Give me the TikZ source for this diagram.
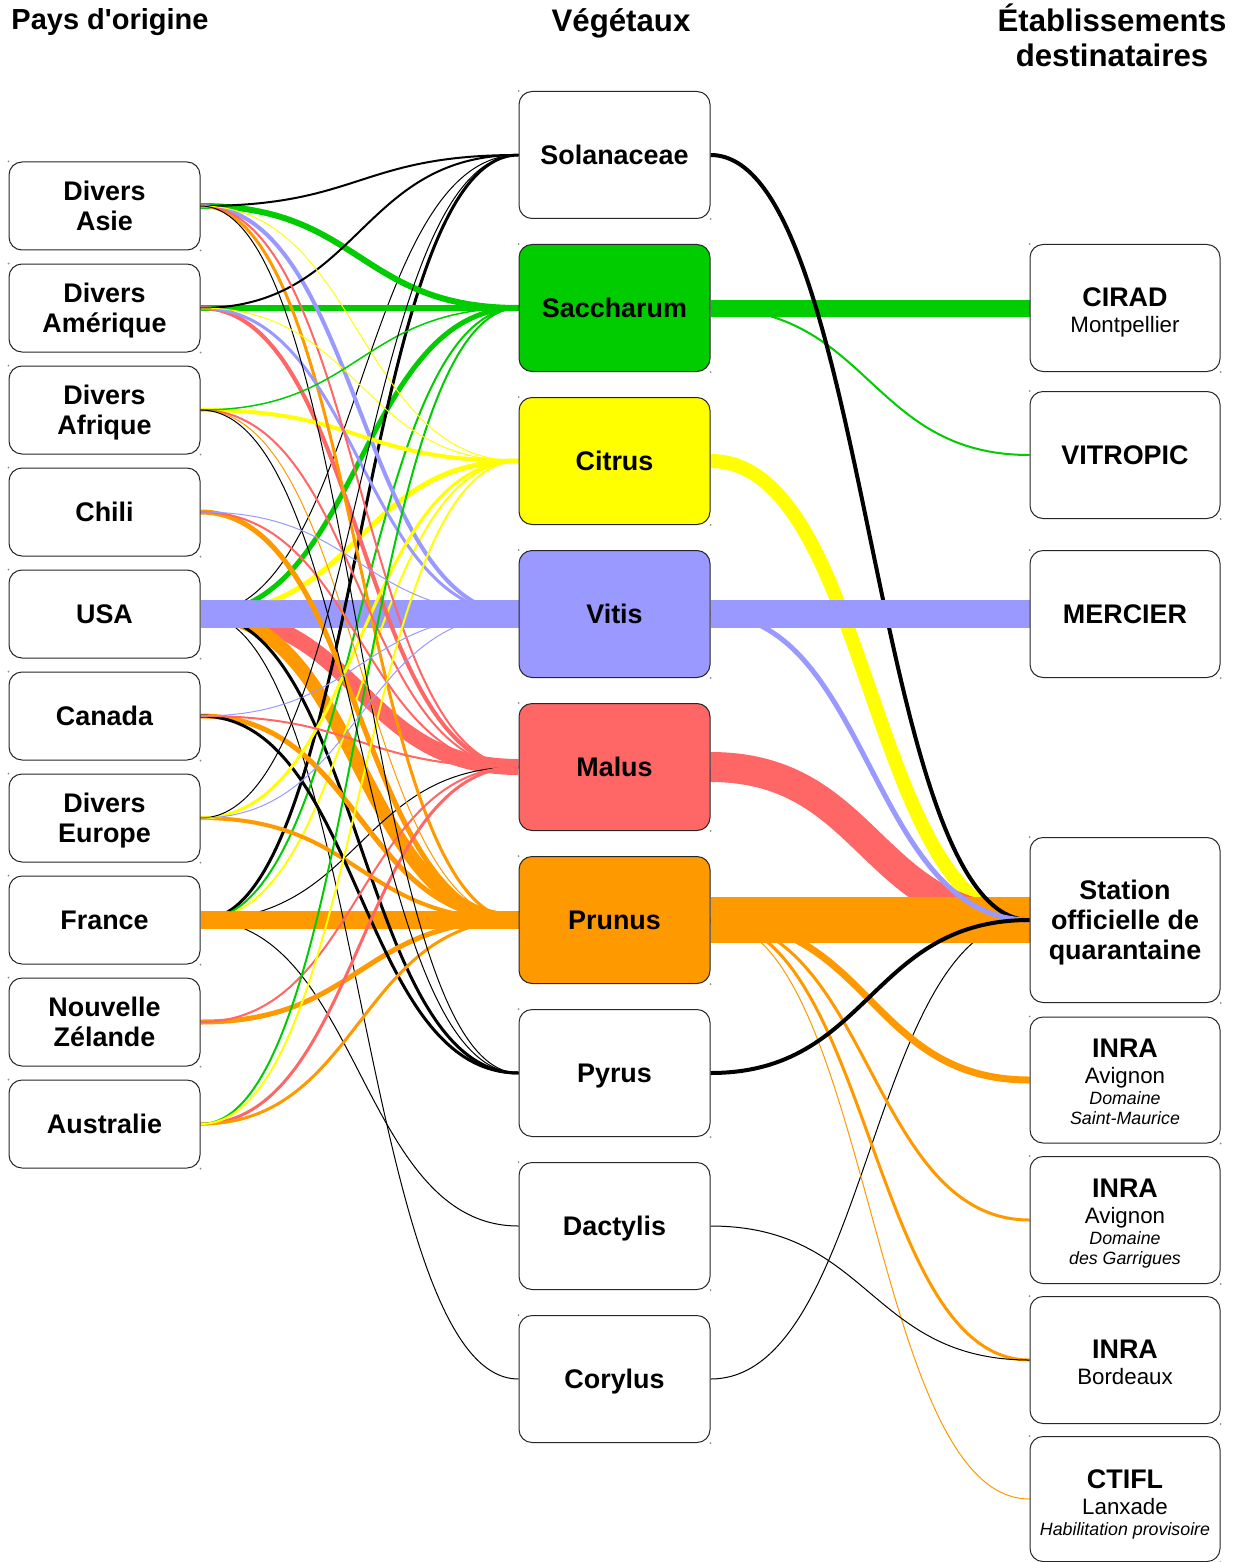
\documentclass[tikz,border=0pt]{standalone}
\usepackage{fontspec}
\setmainfont{Liberation Sans}
\definecolor{cgreen}{HTML}{00CC00}
\definecolor{cyellow}{HTML}{FFFF00}
\definecolor{clav}{HTML}{9999FF}
\definecolor{csalmon}{HTML}{FF6666}
\definecolor{corange}{HTML}{FF9900}
\pgfdeclarelayer{flows}
\pgfsetlayers{flows,main}
% one flow: horizontal tangents at both ends
\newcommand\fl[4]{\draw[draw=#3,line width=#4*0.5pt] (#1.east) .. controls +(160,0) and +(-160,0) .. (#2.west);}
\begin{document}
\begin{tikzpicture}[x=0.5pt,y=-0.5pt,
  box/.style={draw=black!85,line width=0.5pt,rounded corners=6.5pt,fill=white,
    minimum width=95.5pt,inner sep=0pt,align=center,text depth=0pt,
    font=\bfseries\fontsize{13.45}{15}\selectfont},
  lbox/.style={box,minimum height=44pt},
  mbox/.style={box,minimum height=63.5pt},
  rbox/.style={box,minimum width=95pt,minimum height=63.5pt},
  hdr/.style={inner sep=0pt,anchor=base,font=\bfseries\fontsize{15.6}{17.5}\selectfont},
  tb/.style={inner sep=0pt,anchor=base,font=\bfseries\fontsize{13.45}{15}\selectfont},
  tr/.style={inner sep=0pt,anchor=base,font=\fontsize{11.15}{13}\selectfont},
  ti/.style={inner sep=0pt,anchor=base,font=\itshape\fontsize{8.9}{10}\selectfont},
  dot/.style={fill=black!45}]
\useasboundingbox (0,0) rectangle (1239,1562);

% column headers
\node[hdr,font=\bfseries\fontsize{14.5}{16}\selectfont] (hpays) at (110,30) {Pays d\textquotesingle origine};
\node[hdr] (hveg) at (621,32) {Végétaux};
\node[hdr] (hetab) at (1112,32) {Établissements};
\node[hdr] (hdest) at (1112,67) {destinataires};

% countries of origin
\node[lbox] (asie) at (104.5,206) {Divers\\Asie};
\node[lbox] (amerique) at (104.5,308) {Divers\\Amérique};
\node[lbox] (afrique) at (104.5,410) {Divers\\Afrique};
\node[lbox] (chili) at (104.5,512) {Chili};
\node[lbox] (usa) at (104.5,614) {USA};
\node[lbox] (canada) at (104.5,716) {Canada};
\node[lbox] (europe) at (104.5,818) {Divers\\Europe};
\node[lbox] (france) at (104.5,920) {France};
\node[lbox] (nz) at (104.5,1022) {Nouvelle\\Zélande};
\node[lbox] (australie) at (104.5,1124) {Australie};

% plants
\node[mbox] (solanaceae) at (614.5,155) {Solanaceae};
\node[mbox,fill=cgreen] (saccharum) at (614.5,308) {Saccharum};
\node[mbox,fill=cyellow] (citrus) at (614.5,461) {Citrus};
\node[mbox,fill=clav] (vitis) at (614.5,614) {Vitis};
\node[mbox,fill=csalmon] (malus) at (614.5,767) {Malus};
\node[mbox,fill=corange] (prunus) at (614.5,920) {Prunus};
\node[mbox] (pyrus) at (614.5,1073) {Pyrus};
\node[mbox] (dactylis) at (614.5,1226) {Dactylis};
\node[mbox] (corylus) at (614.5,1379) {Corylus};

% receiving establishments
\node[rbox] (cirad) at (1125,308) {};
\node[rbox] (vitropic) at (1125,455) {VITROPIC};
\node[rbox] (mercier) at (1125,614) {MERCIER};
\node[rbox,minimum height=82.5pt] (station) at (1125,920) {Station\\officielle de\\quarantaine};
\node[rbox,minimum height=63pt] (inrasm) at (1125,1080) {};
\node[rbox] (inrag) at (1125,1220) {};
\node[rbox] (inrab) at (1125,1360) {};
\node[rbox,minimum height=62.5pt] (ctifl) at (1125,1499) {};

\node[tb] (ciradA) at (1125,306) {CIRAD};
\node[tr] (ciradB) at (1125,332) {Montpellier};
\node[tb] (inrasmA) at (1125,1057) {INRA};
\node[tr] (inrasmB) at (1125,1083) {Avignon};
\node[ti] (inrasmC) at (1125,1104) {Domaine};
\node[ti] (inrasmD) at (1125,1124) {Saint-Maurice};
\node[tb] (inragA) at (1125,1197) {INRA};
\node[tr] (inragB) at (1125,1223) {Avignon};
\node[ti] (inragC) at (1125,1244) {Domaine};
\node[ti] (inragD) at (1125,1264) {des Garrigues};
\node[tb] (inrabA) at (1125,1358) {INRA};
\node[tr] (inrabB) at (1125,1384) {Bordeaux};
\node[tb] (ctiflA) at (1125,1488) {CTIFL};
\node[tr] (ctiflB) at (1125,1514) {Lanxade};
\node[ti] (ctiflC) at (1125,1535) {Habilitation provisoire};

% corner marks of the boxes
\foreach \n in {asie,amerique,afrique,chili,usa,canada,europe,france,nz,australie,
  solanaceae,saccharum,citrus,vitis,malus,prunus,pyrus,dactylis,corylus,
  cirad,vitropic,mercier,station,inrasm,inrag,inrab,ctifl}{
  \fill[dot] (\n.north west) circle (0.5pt);
  \fill[dot] (\n.south east) circle (0.5pt);
}

\begin{pgfonlayer}{flows}
% main straight bands
\fl{usa}{vitis}{clav}{28}
\fl{france}{prunus}{corange}{18}
% other flows from USA, hidden under its own band
\begin{scope}
  \clip (0,0) -- (1239,0) -- (1239,1562) -- (0,1562) -- cycle
        (200,600) -- (200,628) -- (519,628) -- (519,600) -- cycle;
  \fl{usa}{malus}{csalmon}{16}
  \fl{usa}{prunus}{corange}{14}
  \fl{usa}{saccharum}{cgreen}{5}
  \fl{usa}{citrus}{cyellow}{5}
  \fl{usa}{pyrus}{black}{3}
  \fl{usa}{solanaceae}{black}{1}
  \fl{usa}{corylus}{black}{1}
\end{scope}
% other flows from France, hidden under its own band
\begin{scope}
  \clip (0,0) -- (1239,0) -- (1239,1562) -- (0,1562) -- cycle
        (200,911) -- (200,929) -- (519,929) -- (519,911) -- cycle;
  \fl{france}{solanaceae}{black}{3}
  \fl{france}{saccharum}{cgreen}{2}
  \fl{france}{citrus}{cyellow}{2}
  \fl{france}{malus}{black}{1}
  \fl{france}{dactylis}{black}{1}
\end{scope}
% remaining origin -> plant flows
\fl{asie}{saccharum}{cgreen}{6}
\fl{amerique}{saccharum}{cgreen}{6}
\fl{chili}{prunus}{corange}{5}
\fl{canada}{prunus}{corange}{5}
\fl{nz}{prunus}{corange}{5}
\fl{asie}{vitis}{clav}{4}
\fl{amerique}{malus}{csalmon}{4}
\fl{afrique}{citrus}{cyellow}{4}
\fl{europe}{prunus}{corange}{4}
\fl{asie}{prunus}{corange}{3}
\fl{amerique}{vitis}{clav}{3}
\fl{canada}{pyrus}{black}{3}
\fl{europe}{citrus}{cyellow}{3}
\fl{australie}{malus}{csalmon}{3}
\fl{australie}{prunus}{corange}{3}
\fl{asie}{solanaceae}{black}{2}
\fl{amerique}{solanaceae}{black}{2}
\fl{asie}{malus}{csalmon}{2}
\fl{afrique}{malus}{csalmon}{2}
\fl{chili}{malus}{csalmon}{2}
\fl{canada}{malus}{csalmon}{2}
\fl{nz}{malus}{csalmon}{2}
\fl{australie}{saccharum}{cgreen}{2}
\fl{australie}{citrus}{cyellow}{2}
\fl{asie}{citrus}{cyellow}{1}
\fl{asie}{pyrus}{black}{1}
\fl{amerique}{citrus}{cyellow}{1}
\fl{afrique}{saccharum}{cgreen}{1.5}
\fl{afrique}{prunus}{corange}{1}
\fl{afrique}{pyrus}{black}{1}
\fl{chili}{vitis}{clav}{1}
\fl{canada}{vitis}{clav}{1}
\fl{europe}{solanaceae}{black}{1}
\fl{europe}{vitis}{clav}{1}
% plant -> establishment flows
\fl{saccharum}{cirad}{cgreen}{17}
\fl{saccharum}{vitropic}{cgreen}{2}
\fl{corylus}{station}{black}{1}
\fl{citrus}{station}{cyellow}{14}
\fl{malus}{station}{csalmon}{30}
\fl{prunus}{station}{corange}{46}
\fl{prunus}{inrasm}{corange}{7}
\fl{prunus}{inrag}{corange}{3}
\fl{prunus}{inrab}{corange}{3}
\fl{prunus}{ctifl}{corange}{1}
\fl{solanaceae}{station}{black}{4}
\fl{vitis}{mercier}{clav}{28}
\fl{vitis}{station}{clav}{5}
\fl{pyrus}{station}{black}{4}
\fl{dactylis}{inrab}{black}{1}
\end{pgfonlayer}
\end{tikzpicture}
\end{document}
